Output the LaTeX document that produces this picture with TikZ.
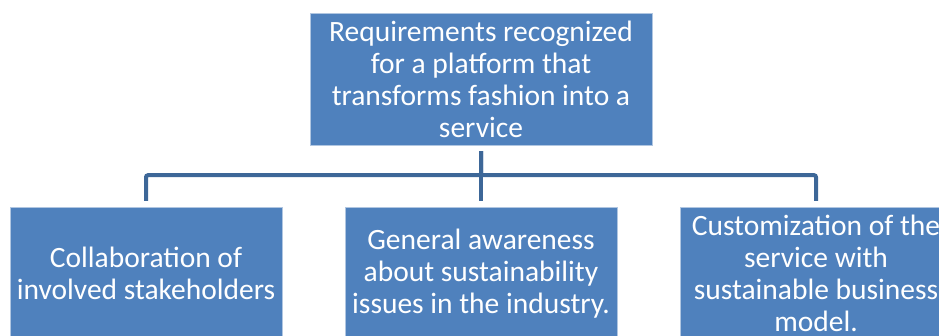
\documentclass[tikz,border=0pt]{standalone}
\usepackage{fontspec}
\setmainfont{Carlito}
\usetikzlibrary{positioning}
\usetikzlibrary{calc}
\definecolor{boxblue}{HTML}{4F81BD}
\definecolor{linkblue}{HTML}{3D6798}
\tikzset{
    % The filled blue boxes of the hierarchy
    level box/.style={
        draw=boxblue!45!white, fill=boxblue, text=white, align=center,
        inner sep=2pt, font=\fontsize{29.5}{32}\selectfont},
%
    % Top box is wider than the ones below it
    top box/.style={level box, minimum width=342pt, minimum height=132pt},
    leaf box/.style={level box, minimum width=272pt, minimum height=133pt},
%
    % Elbow connectors between levels
    link/.style={draw=linkblue, line width=4pt, rounded corners=2pt,
        shorten <=6pt, shorten >=6pt}}

\begin{document}
\begin{tikzpicture}[x=1pt, y=1pt]
\useasboundingbox (0,0) rectangle (939,336);

% Top level requirement
\node [top box] (requirements) at (481,257)
    {Requirements recognized\\for a platform that\\transforms fashion into a\\service};

% Three recognized requirements
\node [leaf box] (collaboration) at (146,62.5)
    {Collaboration of\\involved stakeholders};
\node [leaf box] (awareness) at (481,62.5)
    {General awareness\\about sustainability\\issues in the industry.};
\node [leaf box] (customization) at (816,62.5)
    {Customization of the\\service with\\sustainable business\\model.};

% Connectors
\draw [link] (requirements.south) -- (awareness.north);
\draw [link] (requirements.south) -- ++(0,-30) -| (collaboration.north);
\draw [link] (requirements.south) -- ++(0,-30) -| (customization.north);

\end{tikzpicture}
\end{document}
